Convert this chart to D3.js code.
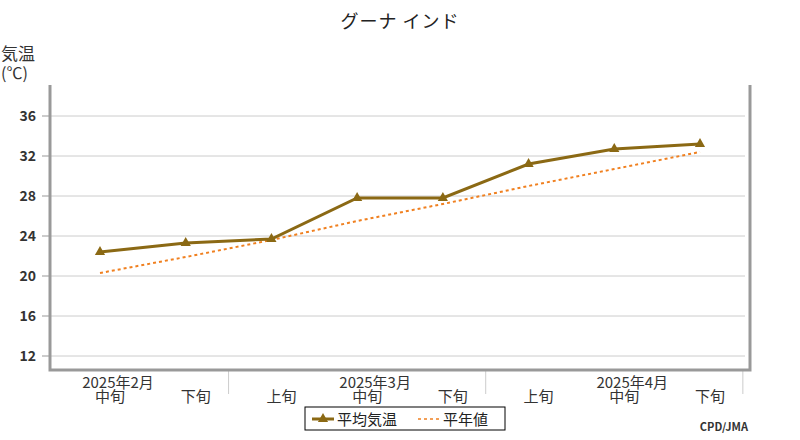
<!DOCTYPE html><html><head><meta charset="utf-8"><script src="https://cdn.jsdelivr.net/npm/d3@7"></script>
<style>body{margin:0;background:#fff}text{font-family:"Noto Sans CJK JP","DejaVu Sans",sans-serif}</style></head><body><svg width="800" height="440"></svg><script>
const dekads=["中旬","下旬","上旬","中旬","下旬","上旬","中旬","下旬"];
const months=[{label:"2025年2月",idx:0},{label:"2025年3月",idx:3},{label:"2025年4月",idx:6}];
const meanTemp=[22.4,23.3,23.7,27.8,27.8,31.2,32.7,33.2];
const normalTemp=[20.3,21.9,23.6,25.5,27.2,29.0,30.7,32.4];
const yTicks=[12,16,20,24,28,32,36];
const svg=d3.select("svg");
const L=50,R=750,T=85,B=370;
const x=d3.scaleLinear().domain([0,7]).range([100,700]);
const y=d3.scaleLinear().domain([10.6,39.1]).range([B,T]);
svg.append("text").attr("x",400).attr("y",28).attr("text-anchor","middle").attr("font-size",18).attr("letter-spacing",1).attr("fill","#222").text("グーナ インド");
svg.append("text").attr("x",1).attr("y",60).attr("font-size",17).attr("fill","#333").text("気温");
svg.append("text").attr("x",1).attr("y",79).attr("font-size",16).attr("fill","#333").text("(℃)");
const g=svg.append("g");
yTicks.forEach(t=>{g.append("line").attr("x1",L).attr("x2",R-5).attr("y1",y(t)).attr("y2",y(t)).attr("stroke","#ccc");
g.append("line").attr("x1",L-8).attr("x2",L).attr("y1",y(t)).attr("y2",y(t)).attr("stroke","#999");
g.append("text").attr("x",36).attr("y",y(t)+5).attr("text-anchor","end").attr("font-size",14).attr("font-weight","bold").attr("fill","#333").text(t);});
[1.5,4.5,7.5].forEach(i=>g.append("line").attr("x1",x(i)).attr("x2",x(i)).attr("y1",B).attr("y2",B+24).attr("stroke","#ccc"));
g.append("path").attr("d",`M${L},${T}V${B}H${R}V${T}`).attr("fill","none").attr("stroke","#999").attr("stroke-width",3);
dekads.forEach((d,i)=>g.append("text").attr("x",x(i)+10).attr("y",402).attr("text-anchor","middle").attr("font-size",15).attr("fill","#333").text(d));
months.forEach(m=>g.append("text").attr("x",x(m.idx)+18).attr("y",388).attr("text-anchor","middle").attr("font-size",15).attr("fill","#333").text(m.label));
const line=d3.line().x((d,i)=>x(i)).y(d=>y(d));
g.append("path").datum(normalTemp).attr("d",line).attr("fill","none").attr("stroke","#f08020").attr("stroke-width",2).attr("stroke-dasharray","3,3");
g.append("path").datum(meanTemp).attr("d",line).attr("fill","none").attr("stroke","#8b6914").attr("stroke-width",3);
const tri=d3.symbol().type(d3.symbolTriangle).size(45);
meanTemp.forEach((v,i)=>g.append("path").attr("d",tri).attr("transform",`translate(${x(i)},${y(v)})`).attr("fill","#8b6914"));
const lg=svg.append("g");
lg.append("rect").attr("x",305).attr("y",407).attr("width",200).attr("height",23).attr("fill","#fff").attr("stroke","#000");
lg.append("line").attr("x1",312).attr("x2",334).attr("y1",419).attr("y2",419).attr("stroke","#8b6914").attr("stroke-width",3);
lg.append("path").attr("d",tri).attr("transform","translate(323,419)").attr("fill","#8b6914");
lg.append("text").attr("x",337).attr("y",425).attr("font-size",15).attr("fill","#222").text("平均気温");
lg.append("line").attr("x1",418).attr("x2",440).attr("y1",419).attr("y2",419).attr("stroke","#f08020").attr("stroke-width",1.5).attr("stroke-dasharray","3,3");
lg.append("text").attr("x",443).attr("y",425).attr("font-size",15).attr("fill","#222").text("平年値");
svg.append("text").attr("x",748).attr("y",431).attr("text-anchor","end").attr("font-size",11).attr("font-weight","bold").attr("fill","#333").text("CPD/JMA");
</script></body></html>
